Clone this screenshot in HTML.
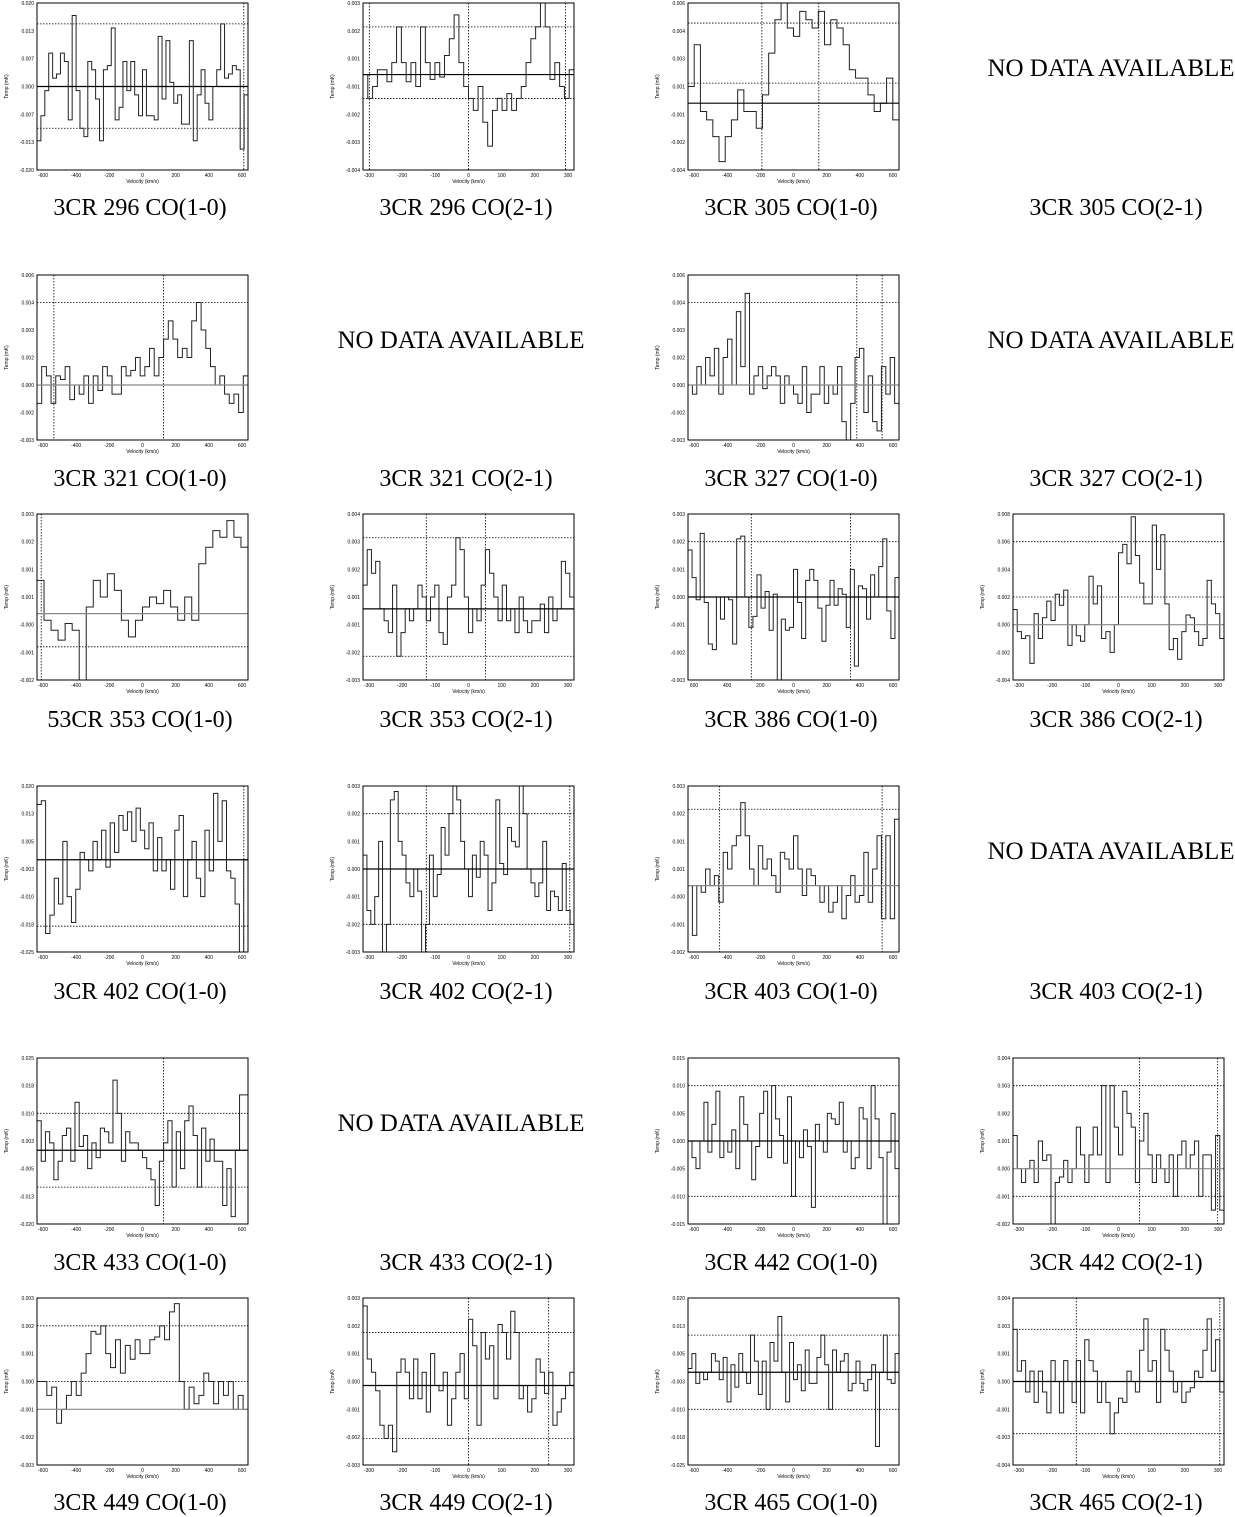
<!DOCTYPE html>
<html><head><meta charset="utf-8"><style>
body{margin:0;background:#fff;width:1235px;height:1515px;position:relative;overflow:hidden;font-family:"Liberation Serif",serif}
.cap{position:absolute;width:300px;text-align:center;font-size:24px;color:#000}
.nd{position:absolute;width:320px;text-align:center;font-size:25px;color:#000}
svg{position:absolute;left:0;top:0}
</style></head><body>
<svg id="chart" width="1235" height="1515"></svg>
<script>
const colX=[37,363,688,1013];
const rowY=[[3,170],[275,440],[514,680],[786,952],[1058,1224],[1298,1465]];
const capY=[207,478,719,991,1262,1502];
const captions=[["3CR 296 CO(1-0)","3CR 296 CO(2-1)","3CR 305 CO(1-0)","3CR 305 CO(2-1)"],
["3CR 321 CO(1-0)","3CR 321 CO(2-1)","3CR 327 CO(1-0)","3CR 327 CO(2-1)"],
["53CR 353 CO(1-0)","3CR 353 CO(2-1)","3CR 386 CO(1-0)","3CR 386 CO(2-1)"],
["3CR 402 CO(1-0)","3CR 402 CO(2-1)","3CR 403 CO(1-0)","3CR 403 CO(2-1)"],
["3CR 433 CO(1-0)","3CR 433 CO(2-1)","3CR 442 CO(1-0)","3CR 442 CO(2-1)"],
["3CR 449 CO(1-0)","3CR 449 CO(2-1)","3CR 465 CO(1-0)","3CR 465 CO(2-1)"]];
const noData=[[0,3],[1,1],[1,3],[3,3],[4,1]];
const xTicks10=["-600","-400","-200","0","200","400","600"];
const xTicks21=["-300","-200","-100","0","100","200","300"];
const p1=[-13,-7,-1,8,2,3,8,6,-8,17,-1,-10,-12,6,4,-3,-13,4,5,14,-8,-5,6,-1,6,-2,-7,4,-7,-7,-8,12,-3,11,1,-4,-2,-9,-9,11,-13,-2,4,-4,-8,0,4,15,2,3,5,4,-15,-2];
const p2=[0,-1,-0.5,0.2,0.2,-0.3,0.5,2,0.5,-0.3,0.5,-0.5,2,0.5,-0.2,0.5,-0.1,0.8,1.5,2.5,0.5,-0.5,-1,-1.5,-0.5,-2,-3,-1.5,-1,-1.5,-0.8,-1.5,-1,-0.5,0.5,1.5,2,3,2,-0.2,0.5,-0.5,-1,0.2];
const p3=[1,3.5,-0.5,-1,-2,-3.5,-2,-1,0.8,-0.5,-0.5,-1.5,0.5,3,5,6,4.5,4,5.5,5,4.5,5.5,3.5,5,4.5,3.5,2,1.5,1.5,0.5,-0.5,0,1.5,-1];
const p5=[-1,1,0.5,-1,0.5,0.3,1,-0.8,0,-0.5,0.5,-1,0.5,-0.3,1,0.5,-0.5,-0.5,1,0.5,0.8,1.5,0.5,1,2,0.5,1.5,2.5,3.5,2.5,1.5,2,1.5,3.5,4.5,3,2,1,0,0.5,-0.5,-1,-0.5,-1.5,0.5];
const p7=[0,-0.5,1,0,1.5,0.5,2,-0.5,1.5,2.5,0,4,1,5,-0.5,0.5,1,-0.2,0.5,1,0.5,-1,0.5,0,-0.5,-1,1,-1.5,-0.5,-0.5,1,-1,0,-0.5,1,-2,-3,-1,1.5,2,-1.5,0.5,-2,-2.5,1,-0.5,1.5,-1];
const p9=[1,-0.2,-0.5,-0.8,-0.3,-0.5,-2,0.2,1,0.5,1.2,0.7,-0.2,-0.7,-0.2,0.2,0.5,0.3,0.7,0.2,-0.2,0.5,-0.2,1.5,2,2.5,2.3,2.8,2.3,2.0];
const p10=[1,2.5,1.5,2,0,-0.5,-1,1,-2,-1,0,-0.5,0,1,0.5,-0.5,0.5,1,-1,-1.5,0.5,1,3,2.5,0.5,-1,0,-0.5,1,2.5,1.5,0.5,-0.5,1,-0.5,0,-1,0.5,-0.5,-1,-0.5,-0.5,0.2,-1,0.5,-0.5,0,2,1.5,0.5];
const p11=[1.7,0.7,-0.1,2.3,-0.2,-1.7,-1.9,0,-0.8,0,-0.1,-1.7,2.1,2.2,0,-1.1,-0.7,0.8,-0.4,0.2,-1.2,0.1,-3,-0.8,-1.2,-1.1,1,-0.2,-1.5,0.6,1,0.6,-0.4,-1.6,-0.3,0.6,-0.3,0.3,0.1,-1.1,1,-2.5,0.4,0.3,-0.8,0.8,0,1.1,2.1,-0.5,-1.5,0.7];
const p12=[1.1,-0.5,-1,-0.8,-2.8,0.8,-1,0.5,1.7,0.3,2.2,1.4,2.5,-1.5,0,-0.8,-1.2,0,3.5,1.5,2.8,-1,-0.5,-2,0,5.2,5.8,4.4,7.8,5,3,1.5,1.5,7.2,4,6.5,1.5,-1.8,-1,-2.5,-0.5,0.7,0.5,-0.5,-1.5,-1,3.2,1.5,0.8,-1];
const p13=[15,16,-20,-15,-5,-12,5,-10,-17,-8,2,0,-3,5,0,8,-2,10,2,12,8,13,5,14,8,3,10,-3,6,-3,0,-8,8,12,-10,0,5,-5,-10,8,-3,18,5,16,-3,-5,-12,-25,0];
const p14=[0.5,-1.5,-2,-1,1,-3,-2,2.5,2.8,1,0.5,-0.5,-1,0,-0.8,-3,-2,0.5,-1,-0.2,1.5,0.5,2,3,2.5,1,0,-1,0.5,-0.3,1,0.5,-1.5,-0.5,2.5,0.2,-0.2,1.5,1,0.8,3,2,0,-0.5,-1,-0.5,1,-1.5,-0.8,-1,-1.5,0.2,-1.5,-2];
const p15=[0,-1.5,0,-0.2,0.5,0,0.3,-0.5,1,0.5,1.2,1.5,2.5,1.5,0.5,0,1.2,0.5,0.8,0.3,-0.2,1,0.8,0.5,1.5,0.5,-0.3,0.5,0.3,0,-0.5,0,-0.8,-0.5,0,-1,-0.3,0.3,-0.5,-0.3,1,-0.5,0.5,1.5,-1,1.5,-1,2];
const p17=[8,-3,5,2,-8,-3,4,6,-3,13,1,4,-5,2,-2,6,5,2,19,10,-3,5,2,2,0,-2,-5,-8,-15,-3,2,8,-10,5,-5,8,12,4,-10,6,-3,3,-3,-3,-15,-5,-18,0,15,15];
const p19=[0,-3,-5,0,7,-2,3,9,-3,0,-2,2,-5,8,3,0,-7,-1,5,9,-3,10,4,1,-4,8,-10,0,-3,2,-1,-12,3,0,-2,5,4,3,7,-2,0,-5,-3,6,4,-5,10,4,-3,-15,-2,5,-5];
const p20=[1.2,0,-0.5,0,0.3,-0.5,1,0.3,0.5,-2,-0.5,-0.3,0.3,-0.5,0,1.5,0.5,-0.5,0.5,1.5,0.5,3,-0.5,3,1.5,0.5,2.8,2,1.5,-0.5,1,2,0.5,-0.5,0.5,0,-0.5,0.5,-1,0.5,1,0,0.5,1,-1,0.5,0.5,-1.5,1.2,-1.5];
const p21=[0,0,-0.5,-0.2,-1.5,-1,-0.5,0,-0.5,0.3,1,1.8,1.7,2,1,0.5,1.5,0.3,1.3,0.8,1.5,1,1,1.5,1.6,2,1.5,2.5,2.8,0,-1,-0.2,-0.8,-0.5,0.3,0,-0.8,0,-0.5,0,-1,-0.5,-1];
const p22=[3,1,0.5,-0.2,-1.5,-2,-1.5,-2.5,0.5,1,0.5,-0.5,1,-0.5,0.5,-1,1.2,0,-0.2,0.5,-1.5,-0.5,0.5,1.2,-0.5,2.5,1.5,-1.5,2,1,1.5,-0.5,2.3,2,1,2.8,2,-0.5,0,-1,-0.5,1,0.5,-0.3,0.5,-1.5,-1,-0.5,0,0.5];
const p23=[1,5,-3,0,-2,0,5,3,-2,4,-8,2,-4,5,0,-3,10,3,-6,3,-10,8,3,15,0,-8,8,-2,2,-5,6,-3,-3,4,10,2,-10,6,0,3,5,-5,-3,3,-3,-5,-2,2,-20,0,10,-2,-3,5];
const p24=[2.5,0.5,1,-0.5,0.5,-1,0.5,-0.5,-1.5,1,0,-1.5,1,0,-1,1,-1.5,2,1,0.5,-1,0,-1,-2.5,-1.5,-0.8,-1,0.5,0,-0.5,1.5,3,0.5,1,-1,2.5,1.5,0.5,-0.5,0,-1,-0.5,-0.3,0.5,0.2,1.5,3,0.5,2,-0.5];
const panels=[
{r:0,c:0,d:p1,lo:-20,hi:20,hl:[15,-10],vl:[0.98],base:0,g:0,t:xTicks10},
{r:0,c:1,d:p2,lo:-4,hi:3,hl:[2,-1],vl:[0.03,0.5,0.96],base:0,g:0,t:xTicks21},
{r:0,c:2,d:p3,lo:-4,hi:6,hl:[4.8,1.2],vl:[0.35,0.62],base:0,g:0,t:xTicks10},
{r:1,c:0,d:p5,lo:-3,hi:6,hl:[4.5],vl:[0.08,0.6],base:0,g:1,t:xTicks10},
{r:1,c:2,d:p7,lo:-3,hi:6,hl:[4.5],vl:[0.8,0.92],base:0,g:1,t:xTicks10},
{r:2,c:0,d:p9,lo:-2,hi:3,hl:[-1],vl:[0.02],base:0,g:1,t:xTicks10},
{r:2,c:1,d:p10,lo:-3,hi:4,hl:[3,-2],vl:[0.3,0.58],base:0,g:0,t:xTicks21},
{r:2,c:2,d:p11,lo:-3,hi:3,hl:[2],vl:[0.3,0.77],base:0,g:0,t:["600","400","200","0","200","400","600"]},
{r:2,c:3,d:p12,lo:-4,hi:8,hl:[6,2],vl:[],base:0,g:1,t:xTicks21},
{r:3,c:0,d:p13,lo:-25,hi:20,hl:[-18],vl:[0.98],base:0,g:0,t:xTicks10},
{r:3,c:1,d:p14,lo:-3,hi:3,hl:[2,-2],vl:[0.3,0.98],base:0,g:0,t:xTicks21},
{r:3,c:2,d:p15,lo:-2,hi:3,hl:[2.3],vl:[0.15,0.92],base:0,g:1,t:xTicks10},
{r:4,c:0,d:p17,lo:-20,hi:25,hl:[10,-10],vl:[0.6],base:0,g:0,t:xTicks10},
{r:4,c:2,d:p19,lo:-15,hi:15,hl:[10,-10],vl:[],base:0,g:0,t:xTicks10},
{r:4,c:3,d:p20,lo:-2,hi:4,hl:[3,-1],vl:[0.6,0.97],base:0,g:1,t:xTicks21},
{r:5,c:0,d:p21,lo:-3,hi:3,hl:[2,0],vl:[],base:-1,g:1,t:xTicks10},
{r:5,c:1,d:p22,lo:-3,hi:3.3,hl:[2,-2],vl:[0.5,0.88],base:0,g:0,t:xTicks21},
{r:5,c:2,d:p23,lo:-25,hi:20,hl:[10,-10],vl:[],base:0,g:0,t:xTicks10},
{r:5,c:3,d:p24,lo:-4,hi:4,hl:[2.5,-2.5],vl:[0.3,0.98],base:0,g:0,t:xTicks21}];
const NS="http://www.w3.org/2000/svg";
const svg=document.getElementById('chart');
function mk(tag,attrs,parent){const e=document.createElementNS(NS,tag);for(const k in attrs)e.setAttribute(k,attrs[k]);(parent||svg).appendChild(e);return e;}
const W=211;
panels.forEach(p=>{
  const x0=colX[p.c],y0=rowY[p.r][0],y1=rowY[p.r][1],H=y1-y0;
  const g=mk('g',{});
  
  
  const ys=v=>y1-(v-p.lo)/(p.hi-p.lo)*H;
  const xs=i=>x0+i/p.d.length*W;
  p.hl.forEach(v=>{const l=mk('line',{x1:x0,x2:x0+W,y1:ys(v),y2:ys(v),stroke:'#000','stroke-width':0.8,'stroke-dasharray':'1.5,1.5'},g);
    });
  p.vl.forEach(f=>{const l=mk('line',{x1:x0+f*W,x2:x0+f*W,y1:y0,y2:y1,stroke:'#000','stroke-width':0.8,'stroke-dasharray':'1.5,1.5'},g);
    });
  let d='M'+xs(0)+','+ys(p.d[0]);
  p.d.forEach((v,i)=>{d+=' V'+ys(v)+' H'+xs(i+1);});
  const path=mk('path',{d:d,fill:'none',stroke:'#222','stroke-width':1},g);
  
  
  const b=mk('line',{x1:x0,x2:x0+W,y1:ys(p.base),y2:ys(p.base),stroke:p.g?'#888':'#000','stroke-width':1.2},g);
  
  
  const fr=mk('rect',{x:x0,y:y0,width:W,height:H,fill:'none',stroke:'#000','stroke-width':1},g);
  
  
  p.t.forEach((t,i)=>{const tx=mk('text',{x:x0+6+i*(W-12)/(p.t.length-1),y:y1+7,'font-size':5,'text-anchor':'middle','font-family':'Liberation Sans'},g);tx.textContent=t;
    });
  for(let k=0;k<=6;k++){const v=p.lo+k*(p.hi-p.lo)/6;const tx=mk('text',{x:x0-3,y:ys(v)+2,'font-size':5,'text-anchor':'end','font-family':'Liberation Sans'},g);tx.textContent=(v/1000).toFixed(3);
    }
  const xl=mk('text',{x:x0+W/2,y:y1+13,'font-size':5,'text-anchor':'middle','font-family':'Liberation Sans'},g);xl.textContent='Velocity (km/s)';
  
  const yl=mk('text',{x:0,y:0,'font-size':5,'text-anchor':'middle','font-family':'Liberation Sans',transform:`translate(${x0-29},${y0+H/2}) rotate(-90)`},g);yl.textContent='Temp (mK)';
  
});
captions.forEach((row,r)=>row.forEach((t,c)=>{
  const d=document.createElement('div');d.className='cap';d.textContent=t;
  d.style.left=(colX[c]+103-150)+'px';d.style.top=(capY[r]-12)+'px';
  
  
  document.body.appendChild(d);
}));
noData.forEach(([r,c])=>{
  const d=document.createElement('div');d.className='nd';d.textContent='NO DATA AVAILABLE';
  d.style.left=(colX[c]+98-160)+'px';d.style.top=(rowY[r][0]+52)+'px';
  
  
  document.body.appendChild(d);
});
</script>
</body></html>
